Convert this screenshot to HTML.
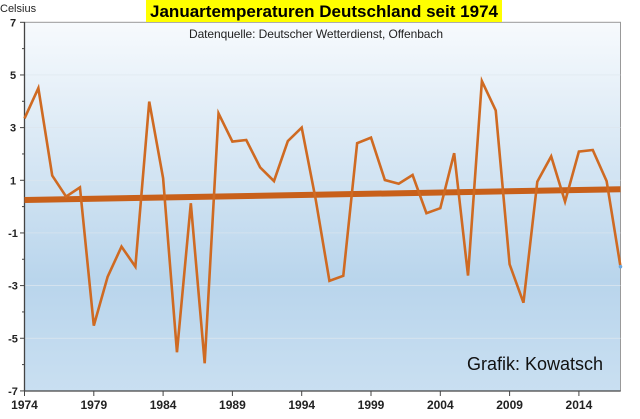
<!DOCTYPE html>
<html><head><meta charset="utf-8"><style>
body{margin:0;background:#fff;width:640px;height:414px;overflow:hidden;font-family:"Liberation Sans",sans-serif}
</style></head><body>
<svg id="c" width="640" height="414" xmlns="http://www.w3.org/2000/svg">
<defs><linearGradient id="bg" x1="0" y1="0" x2="0" y2="1">
<stop offset="0" stop-color="#f7fafd"/><stop offset="0.7" stop-color="#b9d5ec"/><stop offset="1" stop-color="#c9dff1"/></linearGradient></defs>
<rect x="24.5" y="22.3" width="596" height="368.7" fill="url(#bg)" stroke="#999" stroke-width="1"/>
<g id="grid"></g><g id="axes"></g><g id="series"></g>
<rect x="146" y="0" width="356" height="22" fill="#ffff00"/>
<text x="324" y="17" text-anchor="middle" font-size="17" font-weight="bold" fill="#000" textLength="348">Januartemperaturen Deutschland seit 1974</text>
<text x="316" y="38" text-anchor="middle" font-size="12" fill="#222" textLength="254">Datenquelle: Deutscher Wetterdienst, Offenbach</text>
<text x="0" y="12" font-size="11" fill="#222">Celsius</text>
<text x="467" y="370" font-size="18" fill="#111">Grafik: Kowatsch</text>
</svg>
<script>
const years=[1974,1975,1976,1977,1978,1979,1980,1981,1982,1983,1984,1985,1986,1987,1988,1989,1990,1991,1992,1993,1994,1995,1996,1997,1998,1999,2000,2001,2002,2003,2004,2005,2006,2007,2008,2009,2010,2011,2012,2013,2014,2015,2016,2017];
const temps=[3.35,4.5,1.18,0.38,0.73,-4.52,-2.66,-1.52,-2.28,3.99,1.08,-5.53,0.13,-5.95,3.54,2.47,2.53,1.49,0.97,2.49,3.0,0.3,-2.82,-2.63,2.41,2.62,1.01,0.87,1.2,-0.25,-0.06,2.03,-2.62,4.77,3.65,-2.19,-3.65,0.95,1.91,0.19,2.09,2.15,0.97,-2.28];
const trendStart=0.25, trendEnd=0.66;
const yTicks=[7,5,3,1,-1,-3,-5,-7];
const xTicks=[1974,1979,1984,1989,1994,1999,2004,2009,2014];
const NS='http://www.w3.org/2000/svg';
const X=y=>24.5+(y-1974)*13.86, Y=v=>22.3+(7-v)*26.33;
function mk(t,p,a){const e=document.createElementNS(NS,t);for(const k in a)e.setAttribute(k,a[k]);p.appendChild(e);return e;}
const grid=document.getElementById('grid'),axes=document.getElementById('axes'),ser=document.getElementById('series');
yTicks.forEach(v=>{
 if(v!==7&&v!==-7){const g=mk('line',grid,{x1:24.5,x2:620.5,y1:Y(v),y2:Y(v),stroke:'#dde6ee','stroke-width':0.7});
 
 }
 const t=mk('text',axes,{x:13,y:Y(v)+4,'text-anchor':'middle','font-size':11,'font-weight':'bold',fill:'#222'});t.textContent=v;
 
 
 mk('line',axes,{x1:20,x2:24.5,y1:Y(v),y2:Y(v),stroke:'#444'});
});
for(let v=6;v>-7;v-=2)mk('line',axes,{x1:22,x2:24.5,y1:Y(v),y2:Y(v),stroke:'#444'});
xTicks.forEach(y=>{
 const t=mk('text',axes,{x:X(y),y:409,'text-anchor':'middle','font-size':12,'font-weight':'bold',fill:'#222'});t.textContent=y;
 
 
 mk('line',axes,{x1:X(y),x2:X(y),y1:391,y2:396,stroke:'#444'});
});
const ya=mk('line',axes,{x1:24.5,x2:24.5,y1:22,y2:391,stroke:'#444','stroke-width':1.3});


const xa=mk('line',axes,{x1:24.5,x2:620.5,y1:391,y2:391,stroke:'#444','stroke-width':1.3});


const tr=mk('line',ser,{x1:X(years[0]),x2:X(years[years.length-1]),y1:Y(trendStart),y2:Y(trendEnd),stroke:'#c8601a','stroke-width':6});


const pl=mk('polyline',ser,{points:years.map((y,i)=>X(y)+','+Y(temps[i])).join(' '),fill:'none',stroke:'#cf6a22','stroke-width':2.6,'stroke-linejoin':'miter'});


const d=mk('circle',ser,{cx:X(years[years.length-1]),cy:Y(temps[temps.length-1]),r:1.8,fill:'#6aa8e0'});


</script>
</body></html>
